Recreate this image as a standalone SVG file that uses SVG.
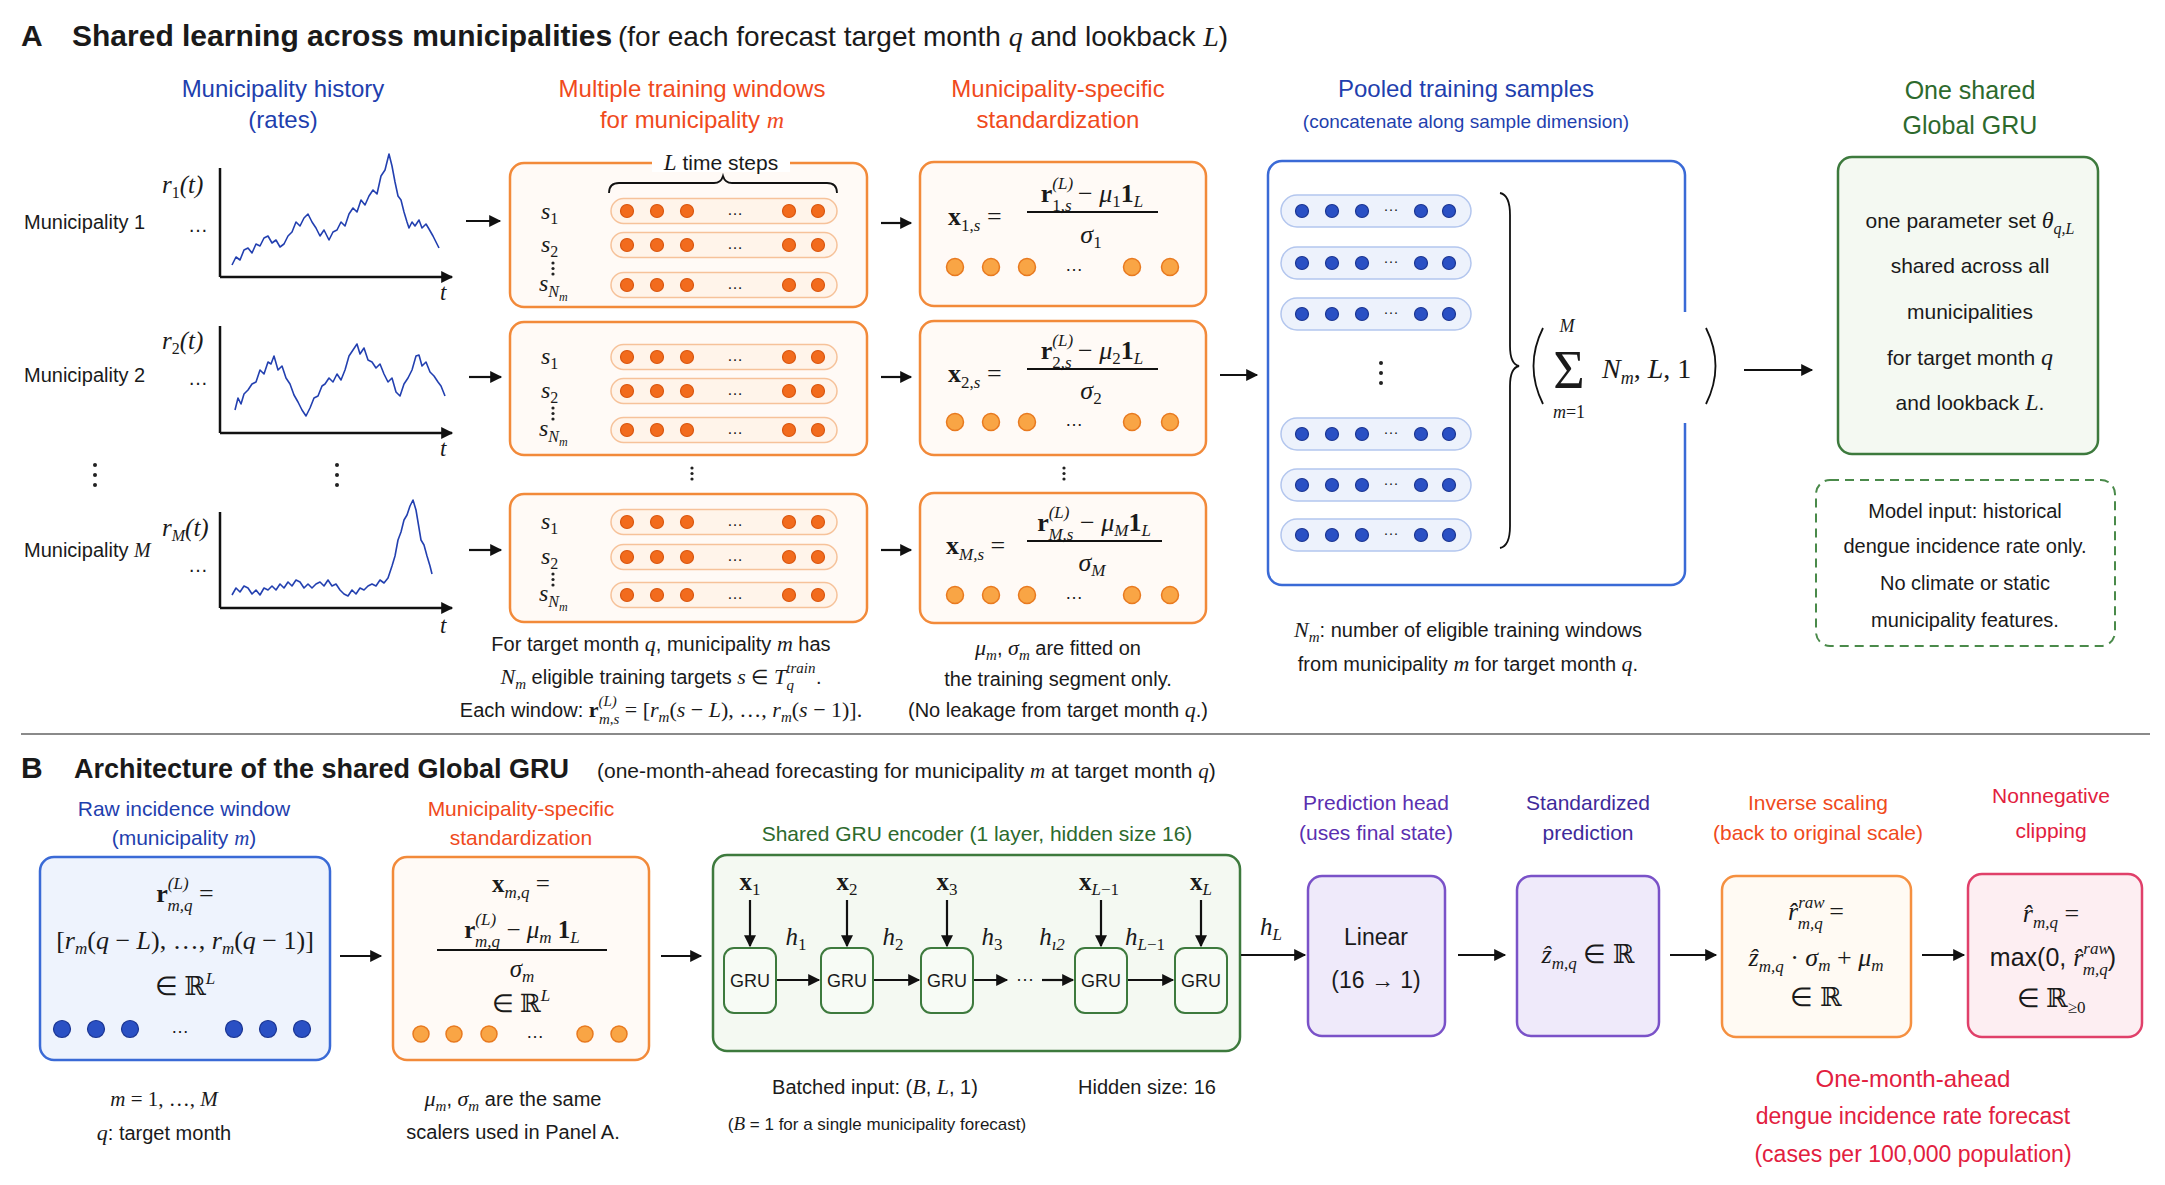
<svg xmlns="http://www.w3.org/2000/svg" xmlns:xlink="http://www.w3.org/1999/xlink" width="2165" height="1185" viewBox="0 0 2165 1185">
<style>
text{font-family:"Liberation Sans",Arial,sans-serif;fill:#1a1a1a;}
.ser{font-family:"Liberation Serif","Times New Roman",serif;}
.i{font-style:italic;}
.b{font-weight:bold;}
.ds{font-family:"DejaVu Serif",serif;font-style:normal;}
.mid{text-anchor:middle;}
.hA{font-size:24px;}
.hB{font-size:21px;}
.blue{fill:#1f3fae;}
.org{fill:#f04a1c;}
.grn{fill:#2d6a2d;}
.pur{fill:#5b2fb0;}
.pur2{fill:#3e2a9a;}
.crim{fill:#e2203e;}
.body{font-size:20px;}
.mth{font-family:"Liberation Serif","Times New Roman",serif;font-style:italic;font-size:22px;}
.boxO{fill:#fffaf6;stroke:#f28a3a;stroke-width:2.5;}
.boxB{fill:#eef3fd;stroke:#3a6ad6;stroke-width:2.5;}
.boxG{fill:#f4f9f2;stroke:#3d7a3d;stroke-width:2.5;}
.boxP{fill:#efeafa;stroke:#7a52c8;stroke-width:2.5;}
.pillO{fill:#fff4ea;stroke:#f6c29a;stroke-width:1.5;}
.dotO{fill:#f26b1d;stroke:#d9560f;stroke-width:1.2;}
.dotS{fill:#f9a545;stroke:#e87a20;stroke-width:1.5;}
.pillB{fill:#edf2fc;stroke:#b3c6ee;stroke-width:1.5;}
.dotB{fill:#2a50c4;stroke:#1b3592;stroke-width:1.2;}
.axis{stroke:#111;stroke-width:2.5;fill:none;}
.ser-line{fill:none;stroke:#2340b0;stroke-width:1.6;stroke-linejoin:round;}
.arr{stroke:#111;stroke-width:2.2;fill:none;marker-end:url(#ah);}
.vd{fill:#222;}
</style>
<defs>
<marker id="ah" viewBox="0 0 10 10" refX="9" refY="5" markerWidth="13" markerHeight="12" markerUnits="userSpaceOnUse" orient="auto"><path d="M0,0 L10,5 L0,10 z" fill="#111"/></marker>
<g id="wrow"><rect x="0" y="-12.5" width="226" height="25" rx="12.5" class="pillO"/><circle cx="16" cy="0" r="6.5" class="dotO"/><circle cx="46" cy="0" r="6.5" class="dotO"/><circle cx="76" cy="0" r="6.5" class="dotO"/><text x="124" y="4" font-size="16" text-anchor="middle" fill="#555">…</text><circle cx="178" cy="0" r="6.5" class="dotO"/><circle cx="207" cy="0" r="6.5" class="dotO"/></g>
<g id="srow"><circle cx="0" cy="0" r="8.5" class="dotS"/><circle cx="36" cy="0" r="8.5" class="dotS"/><circle cx="72" cy="0" r="8.5" class="dotS"/><text x="119" y="4" font-size="18" text-anchor="middle">…</text><circle cx="177" cy="0" r="8.5" class="dotS"/><circle cx="215" cy="0" r="8.5" class="dotS"/></g>
<g id="prow"><rect x="0" y="-16" width="190" height="32" rx="16" class="pillB"/><circle cx="21" cy="0" r="6.5" class="dotB"/><circle cx="51" cy="0" r="6.5" class="dotB"/><circle cx="81" cy="0" r="6.5" class="dotB"/><text x="110" y="3" font-size="15" text-anchor="middle" fill="#333">···</text><circle cx="140" cy="0" r="6.5" class="dotB"/><circle cx="168" cy="0" r="6.5" class="dotB"/></g>
<g id="vdots"><circle cx="0" cy="0" r="1.6" class="vd"/><circle cx="0" cy="5.5" r="1.6" class="vd"/><circle cx="0" cy="11" r="1.6" class="vd"/></g>
<g id="vdotsL"><circle cx="0" cy="0" r="2" class="vd"/><circle cx="0" cy="10" r="2" class="vd"/><circle cx="0" cy="20" r="2" class="vd"/></g>
</defs>
<rect width="2165" height="1185" fill="#ffffff"/>

<!-- Titles -->
<g id="titleA">
<text x="21" y="46" font-size="30" class="b">A</text>
<text x="72" y="46" font-size="30" class="b">Shared learning across municipalities</text>
<text x="618" y="46" font-size="28">(for each forecast target month <tspan class="ser i">q</tspan> and lookback <tspan class="ser i">L</tspan>)</text>
</g>

<!-- Panel A headers -->
<g id="headersA">
<text x="283" y="97" class="hA mid blue">Municipality history</text>
<text x="283" y="128" class="hA mid blue">(rates)</text>
<text x="692" y="97" class="hA mid org">Multiple training windows</text>
<text x="692" y="128" class="hA mid org">for municipality <tspan class="ser i">m</tspan></text>
<text x="1058" y="97" class="hA mid org">Municipality-specific</text>
<text x="1058" y="128" class="hA mid org">standardization</text>
<text x="1466" y="97" class="hA mid blue">Pooled training samples</text>
<text x="1466" y="128" font-size="19" class="mid blue">(concatenate along sample dimension)</text>
<text x="1970" y="99" font-size="25" class="mid grn">One shared</text>
<text x="1970" y="134" font-size="25" class="mid grn">Global GRU</text>
</g>

<!-- Municipality histories -->
<g id="hist1">
<text x="24" y="229" font-size="20">Municipality 1</text>
<text x="188" y="232" font-size="20">…</text>
<text x="162" y="193" class="ser i" font-size="25">r<tspan font-size="16" dy="5" font-style="normal">1</tspan><tspan dy="-5">(t)</tspan></text>
<path d="M220,168 L220,277" class="axis"/>
<path d="M220,277 L452,277" class="axis" marker-end="url(#ah)"/>
<text x="440" y="300" class="ser i" font-size="23">t</text>
<polyline class="ser-line" points="232,265 236,257 240,260 244,250 248,248 252,253 256,244 260,246 264,238 268,236 272,243 276,240 280,247 284,244 288,236 292,232 296,222 300,226 304,218 308,214 312,222 316,228 320,236 324,230 329,240 333,232 337,230 341,222 345,226 349,214 353,208 357,212 361,200 365,205 369,196 373,190 377,194 381,176 385,170 389,154 392,166 395,182 398,196 401,200 404,212 407,222 409,228 412,222 415,226 419,220 422,228 426,224 429,229 433,236 436,242 439,248"/>
</g>
<g id="hist2">
<text x="24" y="382" font-size="20">Municipality 2</text>
<text x="188" y="385" font-size="20">…</text>
<text x="162" y="349" class="ser i" font-size="25">r<tspan font-size="16" dy="5" font-style="normal">2</tspan><tspan dy="-5">(t)</tspan></text>
<path d="M220,326 L220,433" class="axis"/>
<path d="M220,433 L452,433" class="axis" marker-end="url(#ah)"/>
<text x="440" y="456" class="ser i" font-size="23">t</text>
<polyline class="ser-line" points="235,410 238,398 241,404 244,394 248,390 252,384 256,382 260,370 264,374 268,362 271,364 274,356 278,370 282,366 286,378 290,384 294,395 298,402 302,410 306,416 310,408 314,398 318,396 322,386 325,384 329,378 333,382 337,374 341,380 345,370 349,356 353,350 357,344 360,354 364,348 368,360 372,362 376,368 380,364 384,374 388,382 392,378 396,392 400,396 404,384 408,378 412,370 416,356 419,355 422,366 426,362 430,372 434,376 438,382 441,386 445,396"/>
</g>
<g id="histDots">
<use xlink:href="#vdotsL" x="95" y="465"/>
<use xlink:href="#vdotsL" x="337" y="465"/>
</g>
<g id="histM">
<text x="24" y="557" font-size="20">Municipality <tspan class="ser i">M</tspan></text>
<text x="188" y="572" font-size="20">…</text>
<text x="162" y="536" class="ser i" font-size="25">r<tspan font-size="16" dy="5">M</tspan><tspan dy="-5">(t)</tspan></text>
<path d="M220,512 L220,608" class="axis"/>
<path d="M220,608 L452,608" class="axis" marker-end="url(#ah)"/>
<text x="440" y="633" class="ser i" font-size="23">t</text>
<polyline class="ser-line" points="232,595 236,588 240,592 244,586 248,588 252,594 256,590 260,595 264,588 268,590 272,586 276,590 280,584 284,588 288,582 292,586 296,580 300,582 304,588 308,584 312,588 316,584 320,582 324,586 328,580 332,586 336,584 340,590 344,594 348,596 352,590 356,594 360,588 364,590 368,586 372,584 376,586 380,580 384,583 388,578 392,566 395,556 398,540 401,532 404,520 407,515 410,506 413,500 416,510 419,528 421,540 424,545 427,556 430,566 432,574"/>
</g>

<!-- Training windows -->
<g id="win1">
<rect x="510" y="163" width="357" height="144" rx="14" class="boxO"/>
<rect x="652" y="154" width="138" height="18" fill="#ffffff"/>
<text x="721" y="170" font-size="21" class="mid"><tspan class="ser i" font-size="23">L</tspan> time steps</text>
<path d="M609,193 Q609,183 619,183 L714,183 Q721,183 723,176 Q725,183 732,183 L827,183 Q837,183 837,193" fill="none" stroke="#111" stroke-width="1.8"/>
<use xlink:href="#wrow" x="611" y="211"/>
<use xlink:href="#wrow" x="611" y="245"/>
<use xlink:href="#wrow" x="611" y="285"/>
<text x="541" y="219" class="ser i" font-size="24">s<tspan font-size="16" dy="5" font-style="normal">1</tspan></text>
<text x="541" y="252" class="ser i" font-size="24">s<tspan font-size="16" dy="5" font-style="normal">2</tspan></text>
<use xlink:href="#vdots" x="553" y="263"/>
<text x="539" y="291" class="ser i" font-size="24">s<tspan font-size="16" dy="6">N<tspan font-size="12" dy="4">m</tspan></tspan></text>
</g>
<g id="win2">
<rect x="510" y="322" width="357" height="133" rx="14" class="boxO"/>
<use xlink:href="#wrow" x="611" y="357"/>
<use xlink:href="#wrow" x="611" y="391"/>
<use xlink:href="#wrow" x="611" y="430"/>
<text x="541" y="364" class="ser i" font-size="24">s<tspan font-size="16" dy="5" font-style="normal">1</tspan></text>
<text x="541" y="398" class="ser i" font-size="24">s<tspan font-size="16" dy="5" font-style="normal">2</tspan></text>
<use xlink:href="#vdots" x="553" y="408"/>
<text x="539" y="436" class="ser i" font-size="24">s<tspan font-size="16" dy="6">N<tspan font-size="12" dy="4">m</tspan></tspan></text>
</g>
<g id="winDots">
<use xlink:href="#vdots" x="692" y="468"/>
<use xlink:href="#vdots" x="1064" y="468"/>
</g>
<g id="winM">
<rect x="510" y="494" width="357" height="128" rx="14" class="boxO"/>
<use xlink:href="#wrow" x="611" y="522"/>
<use xlink:href="#wrow" x="611" y="557"/>
<use xlink:href="#wrow" x="611" y="595"/>
<text x="541" y="529" class="ser i" font-size="24">s<tspan font-size="16" dy="5" font-style="normal">1</tspan></text>
<text x="541" y="564" class="ser i" font-size="24">s<tspan font-size="16" dy="5" font-style="normal">2</tspan></text>
<use xlink:href="#vdots" x="553" y="574"/>
<text x="539" y="601" class="ser i" font-size="24">s<tspan font-size="16" dy="6">N<tspan font-size="12" dy="4">m</tspan></tspan></text>
</g>
<g id="winNote">
<text x="661" y="651" class="body mid">For target month <tspan class="mth">q</tspan>, municipality <tspan class="mth">m</tspan> has</text>
<text x="661" y="684" class="body mid"><tspan class="mth">N</tspan><tspan class="ser i" font-size="15" dy="5">m</tspan><tspan dy="-5"> eligible training targets </tspan><tspan class="mth">s</tspan> ∈ <tspan class="mth">T</tspan><tspan class="ser i" font-size="15" dy="-11">train</tspan><tspan class="ser i" font-size="15" dx="-29" dy="17">q</tspan><tspan dx="22" dy="-6">.</tspan></text>
<text x="661" y="717" class="body mid">Each window: <tspan class="ser b" font-size="22">r</tspan><tspan class="ser i" font-size="15" dy="-11">(L)</tspan><tspan class="ser i" font-size="15" dx="-18" dy="18">m,s</tspan><tspan dy="-7" class="ser" font-size="22"> = [</tspan><tspan class="mth">r</tspan><tspan class="ser i" font-size="15" dy="5">m</tspan><tspan dy="-5" class="ser" font-size="22">(</tspan><tspan class="mth">s</tspan><tspan class="ser" font-size="22"> − </tspan><tspan class="mth">L</tspan><tspan class="ser" font-size="22">), …, </tspan><tspan class="mth">r</tspan><tspan class="ser i" font-size="15" dy="5">m</tspan><tspan dy="-5" class="ser" font-size="22">(</tspan><tspan class="mth">s</tspan><tspan class="ser" font-size="22"> − 1)].</tspan></text>
</g>

<!-- Standardization -->
<g id="std1">
<rect x="920" y="162" width="286" height="144" rx="14" class="boxO"/>
<text x="948" y="225" font-size="26"><tspan class="ser b">x</tspan><tspan class="ser" font-size="17" dy="6">1,<tspan class="i">s</tspan></tspan><tspan class="ser" dy="-6"> =</tspan></text>
<text x="1092" y="202" font-size="26" class="mid"><tspan class="ser b">r</tspan><tspan class="ser i" font-size="17" dy="-13">(L)</tspan><tspan class="ser" font-size="17" dx="-21" dy="22">1,<tspan class="i">s</tspan></tspan><tspan class="ser" dy="-9"> − </tspan><tspan class="ser i">μ</tspan><tspan class="ser" font-size="17" dy="5">1</tspan><tspan class="ser b" dy="-5">1</tspan><tspan class="ser i" font-size="17" dy="5">L</tspan></text>
<line x1="1027" y1="212" x2="1158" y2="212" stroke="#111" stroke-width="1.8"/>
<text x="1091" y="243" font-size="26" class="mid"><tspan class="ser i">σ</tspan><tspan class="ser" font-size="17" dy="5">1</tspan></text>
<use xlink:href="#srow" x="955" y="267"/>
</g>
<g id="std2">
<rect x="920" y="321" width="286" height="134" rx="14" class="boxO"/>
<text x="948" y="382" font-size="26"><tspan class="ser b">x</tspan><tspan class="ser" font-size="17" dy="6">2,<tspan class="i">s</tspan></tspan><tspan class="ser" dy="-6"> =</tspan></text>
<text x="1092" y="359" font-size="26" class="mid"><tspan class="ser b">r</tspan><tspan class="ser i" font-size="17" dy="-13">(L)</tspan><tspan class="ser" font-size="17" dx="-21" dy="22">2,<tspan class="i">s</tspan></tspan><tspan class="ser" dy="-9"> − </tspan><tspan class="ser i">μ</tspan><tspan class="ser" font-size="17" dy="5">2</tspan><tspan class="ser b" dy="-5">1</tspan><tspan class="ser i" font-size="17" dy="5">L</tspan></text>
<line x1="1027" y1="369" x2="1158" y2="369" stroke="#111" stroke-width="1.8"/>
<text x="1091" y="399" font-size="26" class="mid"><tspan class="ser i">σ</tspan><tspan class="ser" font-size="17" dy="5">2</tspan></text>
<use xlink:href="#srow" x="955" y="422"/>
</g>
<g id="stdM">
<rect x="920" y="493" width="286" height="130" rx="14" class="boxO"/>
<text x="946" y="554" font-size="26"><tspan class="ser b">x</tspan><tspan class="ser i" font-size="17" dy="6">M,s</tspan><tspan class="ser" dy="-6"> =</tspan></text>
<text x="1094" y="531" font-size="26" class="mid"><tspan class="ser b">r</tspan><tspan class="ser i" font-size="17" dy="-13">(L)</tspan><tspan class="ser i" font-size="17" dx="-21" dy="22">M,s</tspan><tspan class="ser" dy="-9"> − </tspan><tspan class="ser i">μ</tspan><tspan class="ser i" font-size="17" dy="5">M</tspan><tspan class="ser b" dy="-5">1</tspan><tspan class="ser i" font-size="17" dy="5">L</tspan></text>
<line x1="1027" y1="541" x2="1162" y2="541" stroke="#111" stroke-width="1.8"/>
<text x="1092" y="571" font-size="26" class="mid"><tspan class="ser i">σ</tspan><tspan class="ser i" font-size="17" dy="5">M</tspan></text>
<use xlink:href="#srow" x="955" y="595"/>
</g>
<g id="stdNote">
<text x="1058" y="655" class="body mid"><tspan class="mth">μ</tspan><tspan class="ser i" font-size="15" dy="5">m</tspan><tspan dy="-5">, </tspan><tspan class="mth">σ</tspan><tspan class="ser i" font-size="15" dy="5">m</tspan><tspan dy="-5"> are fitted on</tspan></text>
<text x="1058" y="686" class="body mid">the training segment only.</text>
<text x="1058" y="717" class="body mid">(No leakage from target month <tspan class="mth">q</tspan>.)</text>
</g>

<!-- Pooled -->
<g id="pooled">
<rect x="1268" y="161" width="417" height="424" rx="14" fill="#ffffff" stroke="#3a6ad6" stroke-width="2.5"/>
<use xlink:href="#prow" x="1281" y="211"/>
<use xlink:href="#prow" x="1281" y="263"/>
<use xlink:href="#prow" x="1281" y="314"/>
<use xlink:href="#vdotsL" x="1381" y="363"/>
<use xlink:href="#prow" x="1281" y="434"/>
<use xlink:href="#prow" x="1281" y="485"/>
<use xlink:href="#prow" x="1281" y="535"/>
<path d="M1500,193 Q1510,195 1510,215 L1510,346 Q1510,364 1519,366 Q1510,368 1510,386 L1510,526 Q1510,546 1500,548" fill="none" stroke="#111" stroke-width="1.8"/>
<rect x="1676" y="312" width="20" height="111" fill="#ffffff"/>
<path d="M1543,328 Q1524,366 1543,404" fill="none" stroke="#111" stroke-width="1.8"/>
<path d="M1706,328 Q1725,366 1706,404" fill="none" stroke="#111" stroke-width="1.8"/>
<text x="1569" y="388" class="ser mid" font-size="54">Σ</text>
<text x="1567" y="332" class="ser i mid" font-size="18">M</text>
<text x="1569" y="418" class="ser mid" font-size="18"><tspan class="i">m</tspan>=1</text>
<text x="1602" y="378" class="ser i" font-size="28">N<tspan font-size="18" dy="6">m</tspan><tspan dy="-6" font-style="normal">,</tspan> L<tspan font-style="normal">, 1</tspan></text>
</g>
<g id="pooledNote">
<text x="1468" y="637" class="body mid"><tspan class="mth">N</tspan><tspan class="ser i" font-size="15" dy="5">m</tspan><tspan dy="-5">: number of eligible training windows</tspan></text>
<text x="1468" y="671" class="body mid">from municipality <tspan class="mth">m</tspan> for target month <tspan class="mth">q</tspan>.</text>
</g>

<!-- Global GRU -->
<g id="globalGRU">
<rect x="1838" y="157" width="260" height="297" rx="14" class="boxG"/>
<text x="1970" y="228" font-size="21" class="mid">one parameter set <tspan class="ser i" font-size="24">θ</tspan><tspan class="ser i" font-size="16" dy="6">q,L</tspan></text>
<text x="1970" y="273" font-size="21" class="mid">shared across all</text>
<text x="1970" y="319" font-size="21" class="mid">municipalities</text>
<text x="1970" y="365" font-size="21" class="mid">for target month <tspan class="ser i" font-size="24">q</tspan></text>
<text x="1970" y="410" font-size="21" class="mid">and lookback <tspan class="ser i" font-size="24">L</tspan>.</text>
</g>
<g id="inputNote">
<rect x="1816" y="480" width="299" height="166" rx="14" fill="none" stroke="#4a8a4a" stroke-width="2" stroke-dasharray="9,6"/>
<text x="1965" y="518" font-size="20" class="mid">Model input: historical</text>
<text x="1965" y="553" font-size="20" class="mid">dengue incidence rate only.</text>
<text x="1965" y="590" font-size="20" class="mid">No climate or static</text>
<text x="1965" y="627" font-size="20" class="mid">municipality features.</text>
</g>

<line x1="21" y1="734" x2="2150" y2="734" stroke="#8a8a8a" stroke-width="2"/>

<!-- Panel B -->
<g id="titleB">
<text x="21" y="778" font-size="30" class="b">B</text>
<text x="74" y="778" font-size="27" class="b">Architecture of the shared Global GRU</text>
<text x="597" y="778" font-size="21">(one-month-ahead forecasting for municipality <tspan class="ser i">m</tspan> at target month <tspan class="ser i">q</tspan>)</text>
</g>
<g id="headersB">
<text x="184" y="816" class="hB mid blue">Raw incidence window</text>
<text x="184" y="845" class="hB mid blue">(municipality <tspan class="ser i">m</tspan>)</text>
<text x="521" y="816" class="hB mid org">Municipality-specific</text>
<text x="521" y="845" class="hB mid org">standardization</text>
<text x="977" y="841" class="hB mid grn">Shared GRU encoder (1 layer, hidden size 16)</text>
<text x="1376" y="810" class="hB mid pur">Prediction head</text>
<text x="1376" y="840" class="hB mid pur">(uses final state)</text>
<text x="1588" y="810" class="hB mid pur2">Standardized</text>
<text x="1588" y="840" class="hB mid pur2">prediction</text>
<text x="1818" y="810" class="hB mid org">Inverse scaling</text>
<text x="1818" y="840" class="hB mid org">(back to original scale)</text>
<text x="2051" y="803" class="hB mid crim">Nonnegative</text>
<text x="2051" y="838" class="hB mid crim">clipping</text>
</g>

<g id="rawWindow">
<rect x="40" y="857" width="290" height="203" rx="14" class="boxB"/>
<text x="185" y="902" class="mid" font-size="26"><tspan class="ser b">r</tspan><tspan class="ser i" font-size="17" dy="-13">(L)</tspan><tspan class="ser i" font-size="17" dx="-21" dy="22">m,q</tspan><tspan class="ser" dy="-9"> =</tspan></text>
<text x="185" y="949" class="mid ser" font-size="26">[<tspan class="i">r</tspan><tspan class="i" font-size="17" dy="5">m</tspan><tspan dy="-5">(</tspan><tspan class="i">q</tspan> − <tspan class="i">L</tspan>), …, <tspan class="i">r</tspan><tspan class="i" font-size="17" dy="5">m</tspan><tspan dy="-5">(</tspan><tspan class="i">q</tspan> − 1)]</text>
<text x="185" y="995" class="mid ser" font-size="26">∈ <tspan class="ds">ℝ</tspan><tspan class="i" font-size="17" dy="-11">L</tspan></text>
<circle cx="62" cy="1029" r="8.5" class="dotB"/><circle cx="96" cy="1029" r="8.5" class="dotB"/><circle cx="130" cy="1029" r="8.5" class="dotB"/>
<text x="180" y="1033" font-size="18" class="mid">…</text>
<circle cx="234" cy="1029" r="8.5" class="dotB"/><circle cx="268" cy="1029" r="8.5" class="dotB"/><circle cx="302" cy="1029" r="8.5" class="dotB"/>
</g>
<g id="rawNote">
<text x="164" y="1106" font-size="21" class="mid ser"><tspan class="i">m</tspan> = 1, …, <tspan class="i">M</tspan></text>
<text x="164" y="1140" font-size="20" class="mid"><tspan class="mth">q</tspan>: target month</text>
</g>

<g id="stdB">
<rect x="393" y="857" width="256" height="203" rx="14" class="boxO"/>
<text x="521" y="892" class="mid" font-size="25"><tspan class="ser b">x</tspan><tspan class="ser i" font-size="17" dy="6">m,q</tspan><tspan class="ser" dy="-6"> =</tspan></text>
<text x="522" y="938" class="mid" font-size="25"><tspan class="ser b">r</tspan><tspan class="ser i" font-size="17" dy="-13">(L)</tspan><tspan class="ser i" font-size="17" dx="-21" dy="22">m,q</tspan><tspan class="ser" dy="-9">  −  </tspan><tspan class="ser i">μ</tspan><tspan class="ser i" font-size="17" dy="5">m</tspan><tspan class="ser b" dy="-5"> 1</tspan><tspan class="ser i" font-size="17" dy="5">L</tspan></text>
<line x1="437" y1="950" x2="607" y2="950" stroke="#111" stroke-width="1.8"/>
<text x="522" y="977" class="mid" font-size="25"><tspan class="ser i">σ</tspan><tspan class="ser i" font-size="17" dy="5">m</tspan></text>
<text x="521" y="1012" class="mid ser" font-size="25">∈ <tspan class="ds">ℝ</tspan><tspan class="i" font-size="17" dy="-11">L</tspan></text>
<circle cx="421" cy="1034" r="8" class="dotS"/><circle cx="454" cy="1034" r="8" class="dotS"/><circle cx="489" cy="1034" r="8" class="dotS"/>
<text x="535" y="1038" font-size="18" class="mid">…</text>
<circle cx="585" cy="1034" r="8" class="dotS"/><circle cx="619" cy="1034" r="8" class="dotS"/>
</g>
<g id="stdBNote">
<text x="513" y="1106" font-size="20" class="mid"><tspan class="mth">μ</tspan><tspan class="ser i" font-size="15" dy="5">m</tspan><tspan dy="-5">, </tspan><tspan class="mth">σ</tspan><tspan class="ser i" font-size="15" dy="5">m</tspan><tspan dy="-5"> are the same</tspan></text>
<text x="513" y="1139" font-size="20" class="mid">scalers used in Panel A.</text>
</g>

<g id="gruEncoder">
<rect x="713" y="855" width="527" height="196" rx="14" class="boxG"/>
<g fill="#f7fbf5" stroke="#3d7a3d" stroke-width="2">
<rect x="724" y="948" width="52" height="65" rx="10"/>
<rect x="821" y="948" width="52" height="65" rx="10"/>
<rect x="921" y="948" width="52" height="65" rx="10"/>
<rect x="1075" y="948" width="52" height="65" rx="10"/>
<rect x="1175" y="948" width="52" height="65" rx="10"/>
</g>
<text x="750" y="987" font-size="18" class="mid">GRU</text>
<text x="847" y="987" font-size="18" class="mid">GRU</text>
<text x="947" y="987" font-size="18" class="mid">GRU</text>
<text x="1101" y="987" font-size="18" class="mid">GRU</text>
<text x="1201" y="987" font-size="18" class="mid">GRU</text>
<text x="750" y="890" class="mid" font-size="25"><tspan class="ser b">x</tspan><tspan class="ser" font-size="17" dy="5">1</tspan></text>
<text x="847" y="890" class="mid" font-size="25"><tspan class="ser b">x</tspan><tspan class="ser" font-size="17" dy="5">2</tspan></text>
<text x="947" y="890" class="mid" font-size="25"><tspan class="ser b">x</tspan><tspan class="ser" font-size="17" dy="5">3</tspan></text>
<text x="1099" y="890" class="mid" font-size="25"><tspan class="ser b">x</tspan><tspan class="ser i" font-size="17" dy="5">L</tspan><tspan class="ser" font-size="17">−1</tspan></text>
<text x="1201" y="890" class="mid" font-size="25"><tspan class="ser b">x</tspan><tspan class="ser i" font-size="17" dy="5">L</tspan></text>
<text x="796" y="945" class="ser i mid" font-size="25">h<tspan font-size="17" dy="5" font-style="normal">1</tspan></text>
<text x="893" y="945" class="ser i mid" font-size="25">h<tspan font-size="17" dy="5" font-style="normal">2</tspan></text>
<text x="992" y="945" class="ser i mid" font-size="25">h<tspan font-size="17" dy="5" font-style="normal">3</tspan></text>
<text x="1052" y="945" class="ser i mid" font-size="25">h<tspan font-size="17" dy="5">ı2</tspan></text>
<text x="1145" y="945" class="ser i mid" font-size="25">h<tspan font-size="17" dy="5">L</tspan><tspan font-size="17" font-style="normal">−1</tspan></text>
<text x="1025" y="985" font-size="18" class="mid">···</text>
</g>
<g id="gruNote">
<text x="875" y="1094" font-size="20" class="mid">Batched input: (<tspan class="mth">B</tspan>, <tspan class="mth">L</tspan>, 1)</text>
<text x="1147" y="1094" font-size="20" class="mid">Hidden size: 16</text>
<text x="877" y="1130" font-size="17" class="mid">(<tspan class="ser i" font-size="19">B</tspan> = 1 for a single municipality forecast)</text>
</g>

<g id="linearHead">
<rect x="1308" y="876" width="137" height="160" rx="14" class="boxP"/>
<text x="1376" y="945" font-size="23" class="mid">Linear</text>
<text x="1376" y="988" font-size="23" class="mid">(16 → 1)</text>
</g>
<g id="stdPred">
<rect x="1517" y="876" width="142" height="160" rx="14" class="boxP"/>
<text x="1588" y="963" class="mid ser" font-size="26"><tspan class="i">ẑ</tspan><tspan class="i" font-size="17" dy="6">m,q</tspan><tspan dy="-6"> ∈ </tspan><tspan class="ds">ℝ</tspan></text>
</g>
<g id="invScale">
<rect x="1722" y="876" width="189" height="161" rx="14" fill="#fffaf3" stroke="#f59040" stroke-width="2.5"/>
<text x="1816" y="920" class="mid ser" font-size="26"><tspan class="i">r̂</tspan><tspan class="i" font-size="17" dy="-12">raw</tspan><tspan class="i" font-size="17" dx="-27" dy="21">m,q</tspan><tspan dy="-9"> =</tspan></text>
<text x="1816" y="966" class="mid ser" font-size="26"><tspan class="i">ẑ</tspan><tspan class="i" font-size="17" dy="6">m,q</tspan><tspan dy="-6"> · </tspan><tspan class="i">σ</tspan><tspan class="i" font-size="17" dy="5">m</tspan><tspan dy="-5"> + </tspan><tspan class="i">μ</tspan><tspan class="i" font-size="17" dy="5">m</tspan></text>
<text x="1816" y="1006" class="mid ser" font-size="26">∈ <tspan class="ds">ℝ</tspan></text>
</g>
<g id="clipping">
<rect x="1968" y="874" width="174" height="163" rx="14" fill="#fdeef2" stroke="#e0406a" stroke-width="2.5"/>
<text x="2051" y="922" class="mid ser" font-size="26"><tspan class="i">r̂</tspan><tspan class="i" font-size="17" dy="6">m,q</tspan><tspan dy="-6">  =</tspan></text>
<text x="2053" y="966" class="mid" font-size="25">max(0, <tspan class="ser i" font-size="26">r̂</tspan><tspan class="ser i" font-size="17" dy="-12">raw</tspan><tspan class="ser i" font-size="17" dx="-27" dy="21">m,q</tspan><tspan dy="-9">)</tspan></text>
<text x="2051" y="1007" class="mid ser" font-size="26">∈ <tspan class="ds">ℝ</tspan><tspan font-size="17" dy="6">≥0</tspan></text>
</g>
<g id="outputNote">
<text x="1913" y="1087" font-size="24" class="mid crim">One-month-ahead</text>
<text x="1913" y="1124" font-size="23" class="mid crim">dengue incidence rate forecast</text>
<text x="1913" y="1162" font-size="23" class="mid crim">(cases per 100,000 population)</text>
</g>

<!-- Connectors -->
<g id="connectors">
<line x1="466" y1="221" x2="500" y2="221" class="arr"/>
<line x1="469" y1="377" x2="501" y2="377" class="arr"/>
<line x1="469" y1="550" x2="501" y2="550" class="arr"/>
<line x1="881" y1="223" x2="911" y2="223" class="arr"/>
<line x1="881" y1="377" x2="911" y2="377" class="arr"/>
<line x1="881" y1="550" x2="911" y2="550" class="arr"/>
<line x1="1220" y1="375" x2="1257" y2="375" class="arr"/>
<line x1="1744" y1="370" x2="1812" y2="370" class="arr"/>
<line x1="340" y1="956" x2="381" y2="956" class="arr"/>
<line x1="661" y1="956" x2="701" y2="956" class="arr"/>
<line x1="750" y1="900" x2="750" y2="946" class="arr"/>
<line x1="847" y1="900" x2="847" y2="946" class="arr"/>
<line x1="947" y1="900" x2="947" y2="946" class="arr"/>
<line x1="1101" y1="900" x2="1101" y2="946" class="arr"/>
<line x1="1201" y1="900" x2="1201" y2="946" class="arr"/>
<line x1="777" y1="980" x2="819" y2="980" class="arr"/>
<line x1="874" y1="980" x2="919" y2="980" class="arr"/>
<line x1="974" y1="980" x2="1007" y2="980" class="arr"/>
<line x1="1042" y1="980" x2="1073" y2="980" class="arr"/>
<line x1="1128" y1="980" x2="1173" y2="980" class="arr"/>
<text x="1271" y="935" class="ser i mid" font-size="25">h<tspan font-size="17" dy="5">L</tspan></text>
<line x1="1241" y1="955" x2="1305" y2="955" class="arr"/>
<line x1="1458" y1="955" x2="1505" y2="955" class="arr"/>
<line x1="1670" y1="955" x2="1716" y2="955" class="arr"/>
<line x1="1922" y1="955" x2="1964" y2="955" class="arr"/>
</g>
</svg>
